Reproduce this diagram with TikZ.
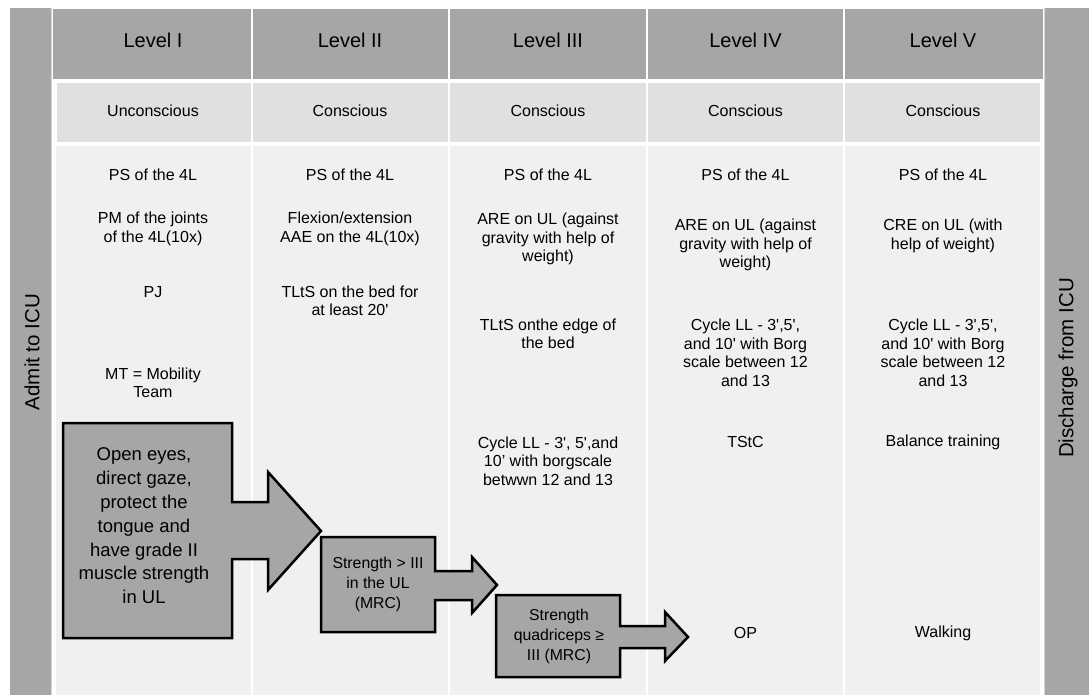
\documentclass[tikz,border=0pt]{standalone}
\usepackage{fontspec}
\setmainfont{Liberation Sans}
\definecolor{hdrgray}{HTML}{A6A6A6}
\definecolor{subgray}{HTML}{E0E0E0}
\definecolor{bodygray}{HTML}{F0F0F0}
\definecolor{stripgray}{HTML}{D4D4D4}
\newcommand{\sq}{\textquotesingle}
\tikzset{
  hdrtext/.style={inner sep=0pt, font=\fontsize{20}{24}\selectfont},
  bartext/.style={inner sep=0pt, rotate=90, font=\fontsize{20.5}{24}\selectfont},
  txt/.style={inner sep=0pt, align=center, font=\fontsize{16}{18.5}\selectfont},
  bigtxt/.style={inner sep=0pt, align=center, font=\fontsize{18.5}{23.8}\selectfont},
  smalltxt/.style={inner sep=0pt, align=center, font=\fontsize{15.8}{20}\selectfont},
  blockarrow/.style={fill=hdrgray, draw=black, line width=2.5pt, line join=miter},
}
\begin{document}
\begin{tikzpicture}[x=1pt,y=-1pt]
\useasboundingbox (0,0) rectangle (1089,695);
\fill[white] (0,0) rectangle (1089,695);
% side bars
\fill[hdrgray] (10,8) rectangle (51,695);
\fill[stripgray] (51,8) rectangle (52.4,695);
\fill[hdrgray] (1045,8) rectangle (1089,695);
\fill[stripgray] (1043.6,8) rectangle (1045,695);
% header row
\fill[hdrgray] (53,9) rectangle (251,79);
\fill[hdrgray] (253,9) rectangle (448,79);
\fill[hdrgray] (450,9) rectangle (646,79);
\fill[hdrgray] (648,9) rectangle (843,79);
\fill[hdrgray] (845,9) rectangle (1043,79);
% sub-header row
\fill[subgray] (57,83) rectangle (250.5,142);
\fill[subgray] (253,83) rectangle (447.5,142);
\fill[subgray] (450,83) rectangle (646,142);
\fill[subgray] (648,83) rectangle (843,142);
\fill[subgray] (845,83) rectangle (1040,142);
% body row
\fill[bodygray] (56,146) rectangle (250.5,695);
\fill[bodygray] (253,146) rectangle (447.5,695);
\fill[bodygray] (450,146) rectangle (646,695);
\fill[bodygray] (648,146) rectangle (843,695);
\fill[bodygray] (845,146) rectangle (1040,695);

% bar labels
\node[bartext] (admit) at (32,352) {Admit to ICU};
\node[bartext] (discharge) at (1068,368) {Discharge from ICU};

% headers
\node[hdrtext] (h1) at (153,40) {Level I};
\node[hdrtext] (h2) at (350,40) {Level II};
\node[hdrtext] (h3) at (548,40) {Level III};
\node[hdrtext] (h4) at (745.5,40) {Level IV};
\node[hdrtext] (h5) at (943,40) {Level V};

\node[txt] (s1) at (153,111) {Unconscious};
\node[txt] (s2) at (350,111) {Conscious};
\node[txt] (s3) at (548,111) {Conscious};
\node[txt] (s4) at (745.5,111) {Conscious};
\node[txt] (s5) at (943,111) {Conscious};

% column I
\node[txt] (a1) at (153,175) {PS of the 4L};
\node[txt] (a2) at (153,229) {PM of the joints\\of the 4L(10x)};
\node[txt] (a3) at (153,292) {PJ};
\node[txt] (a4) at (153,383) {MT = Mobility\\Team};
% column II
\node[txt] (b1) at (350,175) {PS of the 4L};
\node[txt] (b2) at (350,229) {Flexion/extension\\AAE on the 4L(10x)};
\node[txt] (b3) at (350,301) {TLtS on the bed for\\at least 20\sq};
% column III
\node[txt] (c1) at (548,175) {PS of the 4L};
\node[txt] (c2) at (548,239) {ARE on UL (against\\gravity with help of\\weight)};
\node[txt] (c3) at (548,334) {TLtS onthe edge of\\the bed};
\node[txt] (c4) at (548,461) {Cycle LL - 3\sq, 5\sq,and\\10’ with borgscale\\betwwn 12 and 13};
% column IV
\node[txt] (d1) at (745.5,175) {PS of the 4L};
\node[txt] (d2) at (745.5,245) {ARE on UL (against\\gravity with help of\\weight)};
\node[txt] (d3) at (745.5,353) {Cycle LL - 3\sq,5\sq,\\and 10\sq{} with Borg\\scale between 12\\and 13};
\node[txt] (d4) at (745.5,442) {TStC};
\node[txt] (d5) at (745.5,633) {OP};
% column V
\node[txt] (e1) at (943,175) {PS of the 4L};
\node[txt] (e2) at (943,236) {CRE on UL (with\\help of weight)};
\node[txt] (e3) at (943,353) {Cycle LL - 3\sq,5\sq,\\and 10\sq{} with Borg\\scale between 12\\and 13};
\node[txt] (e4) at (943,442) {Balance training};
\node[txt] (e5) at (943,633) {Walking};

% block arrows
\draw[blockarrow] (63,423) -- (232,423) -- (232,502) -- (268,502) -- (268,472)
  -- (321,531) -- (268,590) -- (268,559) -- (232,559) -- (232,638) -- (63,638) -- cycle;
\node[bigtxt] (ar1) at (144,526) {Open eyes,\\direct gaze,\\protect the\\tongue and\\have grade II\\muscle strength\\in UL};

\draw[blockarrow] (321,537) -- (435,537) -- (435,571) -- (472,571) -- (472,557)
  -- (497,585) -- (472,613) -- (472,600) -- (435,600) -- (435,632) -- (321,632) -- cycle;
\node[smalltxt] (ar2) at (378,584) {Strength > III\\in the UL\\(MRC)};

\draw[blockarrow] (496,595) -- (620,595) -- (620,626) -- (665,626) -- (665,612)
  -- (688,637) -- (665,661) -- (665,648) -- (620,648) -- (620,677) -- (496,677) -- cycle;
\node[smalltxt] (ar3) at (559,636) {Strength\\quadriceps ≥\\III (MRC)};
\end{tikzpicture}
\end{document}
